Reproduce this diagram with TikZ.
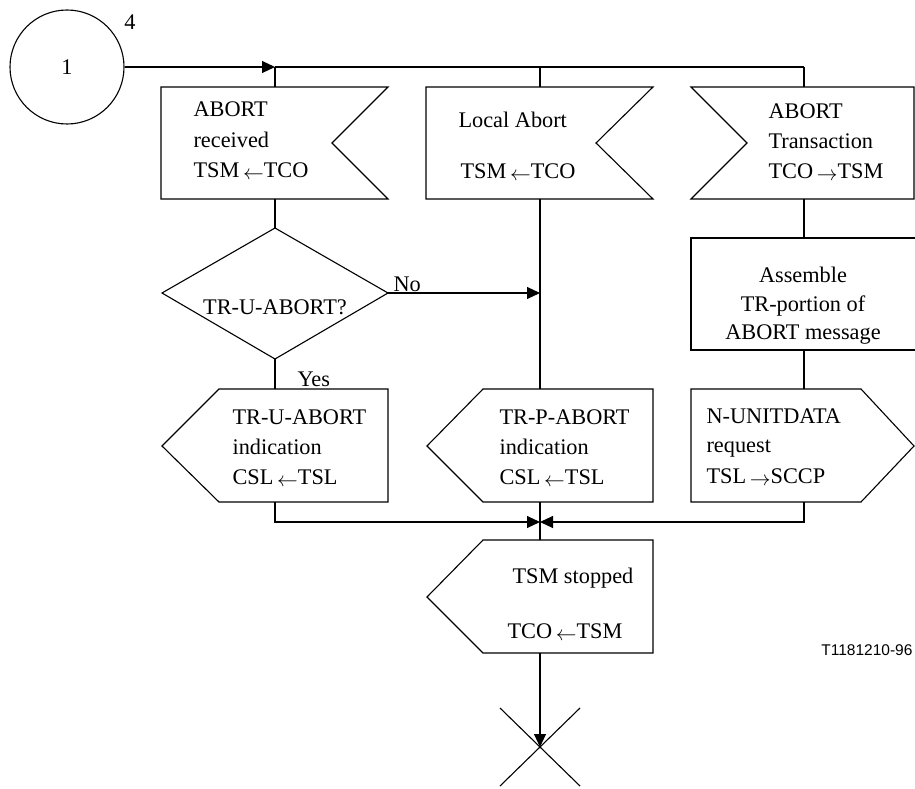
\documentclass[tikz,border=0pt]{standalone}
\usepackage{fontspec}
\setmainfont{Liberation Serif}
\newfontfamily\labelfont{Liberation Sans}
\usetikzlibrary{arrows.meta}
\newcommand{\la}{\,\raisebox{-2pt}{$\leftarrow$}}
\newcommand{\ra}{\,\raisebox{-2pt}{$\rightarrow$}}
\begin{document}
\begin{tikzpicture}[x=1pt,y=-1pt,line width=1.1pt,
  txt/.style={font=\fontsize{22.3}{26}\selectfont,inner sep=0pt,anchor=base west},
  ctxt/.style={font=\fontsize{22.3}{26}\selectfont,inner sep=0pt,anchor=base},
  arr/.style={-{Triangle[length=13pt,width=12pt]}},
  symb/.style={draw,line join=miter}]
\useasboundingbox (0,0) rectangle (915,789);

% connector circle
\node[draw,circle,minimum size=114pt,inner sep=0pt,font=\fontsize{22.3}{26}\selectfont] (c1) at (67,67) {1};
\node[ctxt] (four) at (130,30) {4};

% junction coordinates
\coordinate (j1) at (275,67);
\coordinate (j2) at (540,67);
\coordinate (j3) at (804,67);
\coordinate (b1t) at (275,87);
\coordinate (b2t) at (540,87);
\coordinate (b3t) at (804,87);
\coordinate (b1b) at (275,199);
\coordinate (b2b) at (540,199);
\coordinate (b3b) at (804,199);
\coordinate (dt) at (275,228);
\coordinate (dr) at (388,293);
\coordinate (db) at (275,359);
\coordinate (nojoin) at (540,293);
\coordinate (ast) at (804,238);
\coordinate (asb) at (804,350);
\coordinate (b4t) at (275,389);
\coordinate (b5t) at (540,389);
\coordinate (b6t) at (804,389);
\coordinate (b4b) at (275,502);
\coordinate (b5b) at (540,502);
\coordinate (b6b) at (804,502);
\coordinate (m) at (540,522);
\coordinate (b7t) at (540,540);
\coordinate (b7b) at (540,653);
\coordinate (xc) at (540,747);

% shapes
\draw[symb] (161,87) -- (388,87) -- (332,143) -- (388,199) -- (161,199) -- cycle;
\draw[symb] (426,87) -- (653,87) -- (596,143) -- (653,199) -- (426,199) -- cycle;
\draw[symb] (691,87) -- (914,87) -- (914,199) -- (691,199) -- (747,143) -- cycle;
\draw[symb] (dt) -- (dr) -- (db) -- (162,293) -- cycle;
\draw[symb] (916,238) -- (691,238) -- (691,350) -- (916,350);
\draw[symb] (219,389) -- (388,389) -- (388,502) -- (219,502) -- (162,446) -- cycle;
\draw[symb] (483,389) -- (653,389) -- (653,502) -- (483,502) -- (427,446) -- cycle;
\draw[symb] (691,389) -- (861,389) -- (914,446) -- (861,502) -- (691,502) -- cycle;
\draw[symb] (483,540) -- (653,540) -- (653,653) -- (483,653) -- (427,597) -- cycle;
\draw (500,708) -- (580,786);
\draw (500,786) -- (580,708);

% connectors
\draw[arr] (c1.east) -- (j1);
\draw (j1) -- (j3);
\draw (j1) -- (b1t);
\draw (j2) -- (b2t);
\draw (j3) -- (b3t);
\draw (b1b) -- (dt);
\draw[arr] (dr) -- (nojoin);
\draw (b2b) -- (b5t);
\draw (db) -- (b4t);
\draw (b3b) -- (ast);
\draw (asb) -- (b6t);
\draw[arr] (b4b) |- (m);
\draw[arr] (b6b) |- (m);
\draw (b5b) -- (b7t);
\draw[arr] (b7b) -- (xc);

% texts
\node[txt] (t1a) at (193,117) {ABORT};
\node[txt] (t1b) at (193,147) {received};
\node[txt] (t1c) at (193,177) {TSM\la TCO};

\node[txt] (t2a) at (458,128) {Local Abort};
\node[txt] (t2b) at (460,178) {TSM\la TCO};

\node[txt] (t3a) at (768,118) {ABORT};
\node[txt] (t3b) at (768,148) {Transaction};
\node[txt] (t3c) at (768,178) {TCO\ra TSM};

\node[ctxt] (td) at (275,314) {TR-U-ABORT?};
\node[txt] (tno) at (393,291) {No};
\node[txt] (tyes) at (297,386) {Yes};

\node[ctxt] (ta1) at (803,282) {Assemble};
\node[ctxt] (ta2) at (803,311) {TR-portion of};
\node[ctxt] (ta3) at (803,339) {ABORT message};

\node[txt] (t4a) at (232,424) {TR-U-ABORT};
\node[txt] (t4b) at (232,454) {indication};
\node[txt] (t4c) at (232,484) {CSL\la TSL};

\node[txt] (t5a) at (499,424) {TR-P-ABORT};
\node[txt] (t5b) at (499,454) {indication};
\node[txt] (t5c) at (499,484) {CSL\la TSL};

\node[txt] (t6a) at (706,423) {N-UNITDATA};
\node[txt] (t6b) at (706,452) {request};
\node[txt] (t6c) at (706,483) {TSL\ra SCCP};

\node[txt] (t7a) at (512,583) {TSM stopped};
\node[txt] (t7b) at (507,638) {TCO\la TSM};

\node[inner sep=0pt,anchor=base east,font=\labelfont\fontsize{15.5}{18}\selectfont] (ref) at (913,655) {T1181210-96};
\end{tikzpicture}
\end{document}
